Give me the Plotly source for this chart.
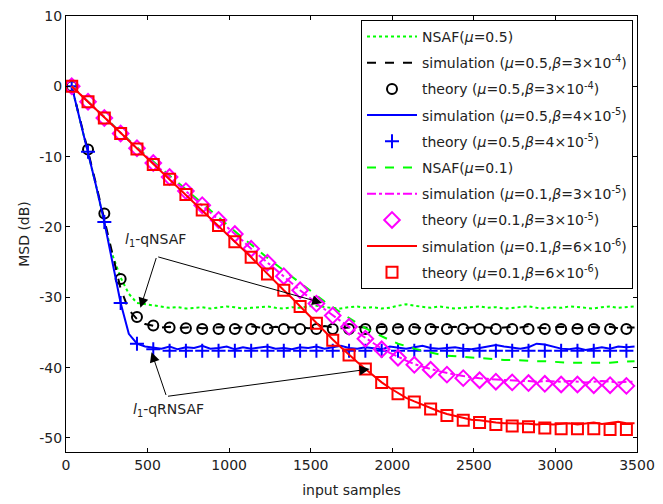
import plotly.graph_objects as go

# ---------------- data ----------------
# simulation curves sampled every 50 input samples starting at 35
line_x0, line_dx = 35, 50
# theory markers every 100 input samples starting at 35
mark_x0, mark_dx = 35, 100

nsaf_05 = [0, -4.6, -9.3, -14.2, -19.5, -24.0, -27.2, -29.5, -30.8, -31.0, -31.1, -31.3, -31.5, -31.4,
           -31.6, -31.5, -31.4, -31.6, -31.5, -31.3, -31.4, -31.6, -31.5, -31.4, -31.3, -31.5, -31.6, -31.4,
           -31.5, -31.3, -31.2, -31.4, -31.5, -31.6, -31.4, -31.3, -31.5, -31.4, -31.6, -31.5, -31.2, -31.0,
           -31.2, -31.4, -31.5, -31.3, -31.4, -31.6, -31.5, -31.4, -31.3, -31.5, -31.4, -31.6, -31.5, -31.4,
           -31.3, -31.5, -31.6, -31.4, -31.5, -31.3, -31.4, -31.5, -31.6, -31.4, -31.3, -31.5, -31.4, -31.3]

sim_05_b3e4 = [0, -4.5, -9.2, -14.0, -19.0, -24.0, -28.8, -31.8, -33.1, -33.8, -34.1, -34.3, -34.2, -34.4,
               -34.3, -34.2, -34.4, -34.3, -34.3, -34.2, -34.4, -34.3, -34.1, -34.3, -34.4, -34.2, -34.3,
               -34.3, -34.2, -34.4, -34.3, -34.1, -34.3, -34.4, -34.3, -34.2, -34.3, -34.4, -34.2, -34.3,
               -34.3, -34.1, -34.3, -34.4, -34.2, -34.3, -34.3, -34.2, -34.4, -34.3, -34.2, -34.3, -34.4,
               -34.3, -34.2, -34.3, -34.1, -34.3, -34.4, -34.3, -34.2, -34.3, -34.4, -34.2, -34.3, -34.3,
               -34.2, -34.4, -34.3, -34.3]

theory_05_b3e4 = [0, -9.0, -18.1, -27.4, -32.8, -34.0, -34.3, -34.4, -34.5, -34.5, -34.5, -34.5, -34.5,
                  -34.5, -34.5, -34.5, -34.5, -34.5, -34.5, -34.5, -34.5, -34.5, -34.5, -34.5, -34.5, -34.5,
                  -34.5, -34.5, -34.5, -34.5, -34.5, -34.5, -34.5, -34.5, -34.5]

sim_05_b4e5 = [0, -4.6, -9.3, -14.2, -19.3, -25.0, -30.8, -35.2, -36.6, -37.0, -37.2, -37.3, -37.0, -37.4,
               -37.1, -37.2, -36.9, -37.3, -37.2, -37.0, -37.4, -37.1, -37.3, -37.2, -37.0, -37.3, -37.2,
               -37.4, -37.1, -37.2, -37.0, -37.3, -37.1, -36.9, -37.2, -37.3, -37.1, -37.2, -37.4, -37.0,
               -37.2, -37.3, -37.1, -36.9, -37.2, -37.3, -37.2, -37.1, -37.3, -37.4, -37.2, -37.0, -36.8,
               -37.0, -37.2, -37.3, -37.1, -36.6, -36.7, -37.0, -37.3, -37.4, -37.2, -37.5, -37.3, -37.1,
               -37.3, -37.0, -37.1, -37.0]

theory_05_b4e5 = [0, -9.3, -19.3, -30.8, -36.6, -37.4, -37.6, -37.6, -37.6, -37.6, -37.6, -37.6, -37.6,
                  -37.6, -37.6, -37.6, -37.6, -37.6, -37.6, -37.6, -37.6, -37.6, -37.6, -37.6, -37.6, -37.6,
                  -37.6, -37.6, -37.6, -37.6, -37.6, -37.6, -37.6, -37.6, -37.6]

nsaf_01 = [0, -1.1, -2.2, -3.3, -4.4, -5.5, -6.6, -7.6, -8.7, -9.7, -10.7, -11.7, -12.7, -13.7, -14.7,
           -15.7, -16.7, -17.7, -18.7, -19.6, -20.6, -21.6, -22.5, -23.5, -24.4, -25.3, -26.2, -27.1,
           -28.0, -28.9, -29.8, -30.6, -31.4, -32.2, -33.0, -33.7, -34.4, -35.0, -35.6, -36.1, -36.6,
           -37.0, -37.3, -37.6, -37.9, -38.1, -38.3, -38.4, -38.5, -38.6, -38.7, -38.8, -38.8, -38.9,
           -38.9, -39.0, -39.0, -39.1, -39.1, -39.2, -39.2, -39.3, -39.3, -39.3, -39.4, -39.4, -39.3,
           -39.2, -39.1, -39.1]

sim_01_b3e5 = [0, -1.1, -2.2, -3.3, -4.5, -5.6, -6.7, -7.7, -8.8, -9.8, -10.9, -11.9, -12.9, -13.9, -14.9,
               -15.9, -16.9, -17.9, -19.0, -20.0, -21.0, -22.0, -23.1, -24.1, -25.1, -26.0, -27.0, -28.0,
               -29.0, -29.9, -30.9, -31.7, -32.6, -33.4, -34.2, -35.0, -35.8, -36.5, -37.3, -37.9, -38.5,
               -39.0, -39.5, -39.9, -40.2, -40.5, -40.8, -41.0, -41.2, -41.4, -41.5, -41.6, -41.7, -41.8,
               -41.8, -41.9, -41.9, -42.0, -41.9, -42.0, -42.0, -41.9, -42.0, -42.1, -42.0, -41.9, -42.0,
               -42.1, -42.0, -42.0]

theory_01_b3e5 = [0, -2.2, -4.5, -6.7, -8.8, -10.9, -12.9, -14.9, -16.9, -19.0, -21.0, -23.1, -25.1, -27.0,
                  -29.0, -30.9, -32.6, -34.2, -35.9, -37.4, -38.6, -39.6, -40.3, -41.0, -41.5, -41.8, -42.0,
                  -42.1, -42.2, -42.3, -42.4, -42.4, -42.5, -42.5, -42.6]

sim_01_b6e6 = [0, -1.1, -2.2, -3.3, -4.5, -5.6, -6.7, -7.8, -8.9, -10.0, -11.1, -12.1, -13.2, -14.3, -15.4,
               -16.5, -17.6, -18.7, -19.8, -21.0, -22.1, -23.2, -24.3, -25.5, -26.7, -27.8, -29.0, -30.1,
               -31.3, -32.5, -33.7, -34.9, -36.0, -37.1, -38.2, -39.2, -40.2, -41.2, -42.1, -42.9, -43.6,
               -44.3, -44.8, -45.3, -45.8, -46.2, -46.6, -46.9, -47.2, -47.4, -47.5, -47.7, -47.8, -47.9,
               -47.9, -48.0, -48.0, -48.1, -48.0, -48.1, -48.0, -47.9, -48.1, -48.0, -47.8, -48.0, -47.9,
               -47.7, -47.9, -47.9]

theory_01_b6e6 = [0, -2.2, -4.5, -6.7, -8.9, -11.1, -13.2, -15.4, -17.6, -19.8, -22.1, -24.3, -26.7, -29.0,
                  -31.3, -33.7, -36.1, -38.2, -40.2, -42.1, -43.7, -44.9, -45.9, -46.8, -47.5, -47.8, -48.1,
                  -48.3, -48.4, -48.6, -48.7, -48.7, -48.7, -48.8, -48.8]

legend_names = [
    "NSAF(<i>μ</i>=0.5)",
    "simulation (<i>μ</i>=0.5,<i>β</i>=3×10<sup>-4</sup>)",
    "theory (<i>μ</i>=0.5,<i>β</i>=3×10<sup>-4</sup>)",
    "simulation (<i>μ</i>=0.5,<i>β</i>=4×10<sup>-5</sup>)",
    "theory (<i>μ</i>=0.5,<i>β</i>=4×10<sup>-5</sup>)",
    "NSAF(<i>μ</i>=0.1)",
    "simulation (<i>μ</i>=0.1,<i>β</i>=3×10<sup>-5</sup>)",
    "theory (<i>μ</i>=0.1,<i>β</i>=3×10<sup>-5</sup>)",
    "simulation (<i>μ</i>=0.1,<i>β</i>=6×10<sup>-6</sup>)",
    "theory (<i>μ</i>=0.1,<i>β</i>=6×10<sup>-6</sup>)",
]

x_ticks = [0, 500, 1000, 1500, 2000, 2500, 3000, 3500]
y_ticks = [-50, -40, -30, -20, -10, 0, 10]

FONT = "DejaVu Sans, Liberation Sans, Arial, sans-serif"
TXT = "#222222"


def lx(arr):
    return [line_x0 + line_dx * i for i in range(len(arr))]


def mx(arr):
    return [mark_x0 + mark_dx * i for i in range(len(arr))]


fig = go.Figure()

series = [
    ("line", nsaf_05, "#00ff00", "dot", None),
    ("line", sim_05_b3e4, "#000000", "dash", None),
    ("mark", theory_05_b3e4, "#000000", None, ("circle-open", 10)),
    ("line", sim_05_b4e5, "#0000ff", "solid", None),
    ("mark", theory_05_b4e5, "#0000ff", None, ("cross-thin-open", 10)),
    ("line", nsaf_01, "#00ff00", "dash", None),
    ("line", sim_01_b3e5, "#ff00ff", "dashdot", None),
    ("mark", theory_01_b3e5, "#ff00ff", None, ("diamond-open", 12)),
    ("line", sim_01_b6e6, "#ff0000", "solid", None),
    ("mark", theory_01_b6e6, "#ff0000", None, ("square-open", 11)),
]

for i, (kind, ys, col, dash, mk) in enumerate(series):
    if kind == "line":
        fig.add_trace(go.Scatter(
            x=lx(ys), y=ys, mode="lines", name=legend_names[i], legendgroup=f"g{i}",
            line=dict(color=col, width=2, dash=dash)))
    else:
        fig.add_trace(go.Scatter(
            x=mx(ys), y=ys, mode="markers", name=legend_names[i], legendgroup=f"g{i}",
            marker=dict(symbol=mk[0], size=mk[1], color=col, line=dict(color=col, width=2))))

# annotations (arrows)
arrow_common = dict(xref="x", yref="y", axref="x", ayref="y", showarrow=True,
                    arrowhead=2, arrowsize=2, arrowwidth=1, arrowcolor="black", text="")
fig.add_annotation(x=456, y=-31.5, ax=556, ay=-24.2, **arrow_common)
fig.add_annotation(x=1570, y=-30.8, ax=556, ay=-24.2, **arrow_common)
fig.add_annotation(x=524, y=-37.8, ax=616, ay=-44.1, **arrow_common)
fig.add_annotation(x=1861, y=-40.2, ax=616, ay=-44.1, **arrow_common)
fig.add_annotation(x=548, y=-21.8, xref="x", yref="y", showarrow=False,
                   text="<i>l</i><sub>1</sub>-qNSAF", font=dict(family=FONT, size=14, color=TXT))
fig.add_annotation(x=627, y=-46.0, xref="x", yref="y", showarrow=False,
                   text="<i>l</i><sub>1</sub>-qRNSAF", font=dict(family=FONT, size=14, color=TXT))

axis_common = dict(showgrid=False, zeroline=False, showline=True, linecolor="black", linewidth=1,
                   mirror="allticks", ticks="inside", ticklen=4, tickcolor="black",
                   ticklabeloverflow="allow",
                   tickfont=dict(family=FONT, size=14, color=TXT))

fig.update_xaxes(range=[0, 3500], tickvals=x_ticks, ticktext=[str(v) for v in x_ticks],
                 title=dict(text="input samples", font=dict(family=FONT, size=14, color=TXT), standoff=13),
                 **axis_common)
fig.update_yaxes(range=[-52, 10], tickvals=y_ticks, ticktext=[str(v) for v in y_ticks],
                 title=dict(text="MSD (dB)", font=dict(family=FONT, size=14, color=TXT), standoff=6),
                 **axis_common)

fig.update_layout(
    width=663, height=504,
    margin=dict(l=66, r=16, t=8, b=52),
    paper_bgcolor="white", plot_bgcolor="white",
    font=dict(family=FONT, size=14, color=TXT),
    legend=dict(x=0.993, y=0.991, xanchor="right", yanchor="top",
                bgcolor="white", bordercolor="black", borderwidth=1,
                font=dict(family=FONT, size=14, color=TXT),
                itemwidth=50, tracegroupgap=5, traceorder="grouped"),
)

fig.write_html("out.html")
